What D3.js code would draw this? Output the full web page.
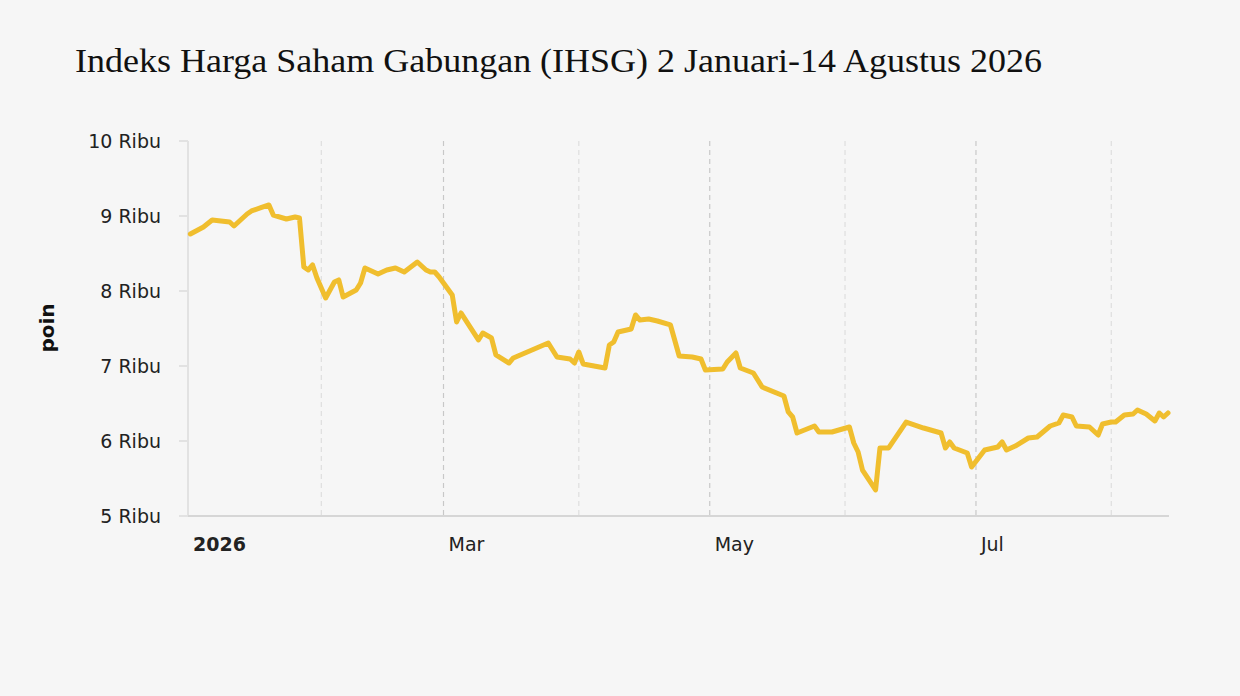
<!DOCTYPE html>
<html><head><meta charset="utf-8">
<script src="https://cdn.jsdelivr.net/npm/d3@7"></script>
<style>body{margin:0;background:#f6f6f6}svg{display:block}</style></head>
<body><svg id="c" width="1240" height="696"></svg>
<script>
const dates = ["2026-01-02","2026-01-05","2026-01-07","2026-01-09","2026-01-11","2026-01-12","2026-01-15","2026-01-16","2026-01-18","2026-01-20","2026-01-21","2026-01-24","2026-01-26","2026-01-27","2026-01-28","2026-01-29","2026-01-30","2026-01-31","2026-02-02","2026-02-04","2026-02-05","2026-02-06","2026-02-09","2026-02-10","2026-02-11","2026-02-14","2026-02-16","2026-02-18","2026-02-20","2026-02-23","2026-02-25","2026-02-26","2026-02-27","2026-02-28","2026-03-03","2026-03-04","2026-03-05","2026-03-09","2026-03-10","2026-03-12","2026-03-13","2026-03-16","2026-03-17","2026-03-25","2026-03-27","2026-03-30","2026-03-31","2026-04-01","2026-04-02","2026-04-07","2026-04-08","2026-04-09","2026-04-10","2026-04-13","2026-04-14","2026-04-15","2026-04-17","2026-04-19","2026-04-22","2026-04-24","2026-04-27","2026-04-29","2026-04-30","2026-05-04","2026-05-05","2026-05-07","2026-05-08","2026-05-11","2026-05-13","2026-05-18","2026-05-19","2026-05-20","2026-05-21","2026-05-25","2026-05-26","2026-05-29","2026-06-02","2026-06-03","2026-06-04","2026-06-05","2026-06-08","2026-06-09","2026-06-11","2026-06-15","2026-06-17","2026-06-19","2026-06-23","2026-06-24","2026-06-25","2026-06-26","2026-06-29","2026-06-30","2026-07-03","2026-07-06","2026-07-07","2026-07-08","2026-07-10","2026-07-13","2026-07-15","2026-07-18","2026-07-20","2026-07-21","2026-07-23","2026-07-24","2026-07-27","2026-07-29","2026-07-30","2026-08-01","2026-08-02","2026-08-04","2026-08-06","2026-08-07","2026-08-09","2026-08-11","2026-08-12","2026-08-13","2026-08-14"];
const values = [8760,8853,8947,8933,8920,8867,9027,9067,9107,9147,9013,8960,8987,8973,8320,8280,8347,8173,7907,8120,8147,7920,8013,8107,8307,8227,8280,8307,8253,8387,8280,8253,8253,8187,7947,7587,7707,7347,7440,7373,7147,7040,7107,7307,7120,7093,7040,7187,7027,6973,7280,7320,7453,7493,7680,7613,7627,7600,7547,7133,7120,7093,6947,6960,7053,7173,6973,6907,6720,6600,6387,6320,6107,6200,6120,6120,6187,5973,5853,5613,5347,5907,5907,6253,6213,6173,6107,5907,5987,5907,5840,5653,5880,5920,5987,5880,5933,6040,6053,6200,6240,6347,6320,6200,6187,6080,6227,6253,6253,6347,6360,6413,6360,6267,6373,6320,6373];
const yTicks = [5000,6000,7000,8000,9000,10000];
const yTickLabels = ["5 Ribu","6 Ribu","7 Ribu","8 Ribu","9 Ribu","10 Ribu"];
const xTickDates = ["2026-01-01","2026-03-01","2026-05-01","2026-07-01"];
const xTickLabels = ["2026","Mar","May","Jul"];
const gridDates = ["2026-02-01","2026-03-01","2026-04-01","2026-05-01","2026-06-01","2026-07-01","2026-08-01"];
const title = "Indeks Harga Saham Gabungan (IHSG) 2 Januari-14 Agustus 2026";

const p = d3.timeParse("%Y-%m-%d");
const data = dates.map((d,i)=>({date:p(d),value:values[i]}));
const svg = d3.select("#c");
const x = d3.scaleTime().domain([p("2026-01-01"),p("2026-08-14")]).range([186,1168]);
const y = d3.scaleLinear().domain([5000,10000]).range([516,141]);
const font = "'DejaVu Sans', sans-serif";

svg.append("text").attr("x",75).attr("y",72).attr("font-family","'Liberation Serif', serif")
  .attr("font-size",33).attr("fill","#111").attr("textLength",967).attr("lengthAdjust","spacingAndGlyphs").text(title);

gridDates.forEach(g=>{
  const gd=p(g), major=[2,4,6].includes(gd.getMonth());
  svg.append("line").attr("x1",x(gd)).attr("x2",x(gd)).attr("y1",141).attr("y2",516)
    .attr("stroke",major?"#c8c8c8":"#dedede").attr("stroke-width",1.2).attr("stroke-dasharray","5,4");
});
svg.append("line").attr("x1",188).attr("x2",188).attr("y1",141).attr("y2",516).attr("stroke","#e2e2e2").attr("stroke-width",2);
yTicks.forEach((t,i)=>{
  svg.append("line").attr("x1",179).attr("x2",188).attr("y1",y(t)).attr("y2",y(t)).attr("stroke","#e2e2e2").attr("stroke-width",2);
  svg.append("text").attr("x",161).attr("y",y(t)).attr("dy","0.35em").attr("text-anchor","end")
    .attr("font-family",font).attr("font-size",19).attr("fill","#222").text(yTickLabels[i]);
});
svg.append("line").attr("x1",188).attr("x2",1169).attr("y1",516).attr("y2",516).attr("stroke","#d6d6d6").attr("stroke-width",2);
xTickDates.forEach((t,i)=>{
  const td=p(t);
  svg.append("text").attr("x",Math.max(x(td),188)+5).attr("y",551)
    .attr("font-family",font).attr("font-size",19).attr("fill","#222")
    .attr("font-weight",i===0?"bold":"normal").text(xTickLabels[i]);
});
svg.append("text").attr("transform","translate(54,328) rotate(-90)").attr("text-anchor","middle")
  .attr("font-family",font).attr("font-size",20).attr("font-weight","bold").attr("fill","#111").text("poin");

svg.append("path").datum(data).attr("fill","none").attr("stroke","#f0be2e").attr("stroke-width",5)
  .attr("stroke-linejoin","round").attr("stroke-linecap","round")
  .attr("d",d3.line().x(d=>x(d.date)).y(d=>y(d.value)));
</script></body></html>
